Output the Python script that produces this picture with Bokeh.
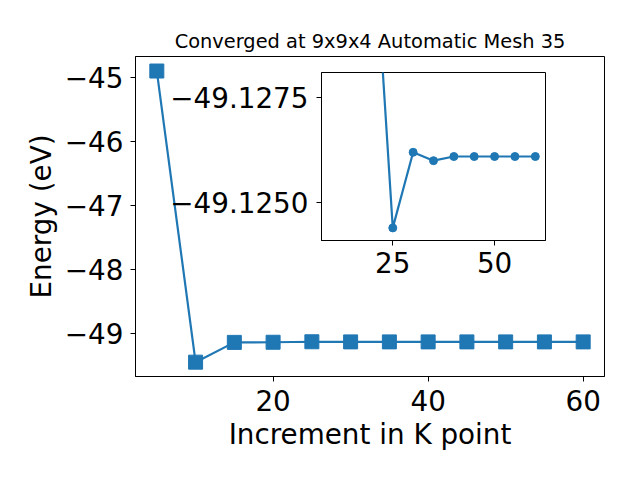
from bokeh.plotting import figure
from bokeh.layouts import column
from bokeh.models import Range1d, FixedTicker, CustomJSTickFormatter
from bokeh.embed import file_html
from bokeh.resources import INLINE

# ---- data ----
kpoints = [5, 10, 15, 20, 25, 30, 35, 40, 45, 50, 55, 60]
energy = [-44.894, -49.443, -49.134, -49.132, -49.1244, -49.1262,
          -49.1260, -49.1261, -49.1261, -49.1261, -49.1261, -49.1261]
inset_k = kpoints[1:]
inset_e = energy[1:]
title_text = "Converged at 9x9x4 Automatic Mesh 35"
x_label = "Increment in K point"
y_label = "Energy (eV)"
main_xticks = [20, 40, 60]
main_yticks = [-49, -48, -47, -46, -45]
inset_xticks = [25, 50]
inset_yticks = [-49.1275, -49.1250]

FONT = "DejaVu Sans"
BLUE = "#1f77b4"
LBL = "27.8px"

# shared left/right borders (column layout aligns plot frames)
BL, BR = 155, 16
SHIFT = BL - 135          # main frame left sits at x=135 on the page

MT, MB = 56, 104
FW, FH = 469, 320
# the column gives a negatively-shifted child SHIFT px less than asked
W, H = BL + FW + BR + SHIFT, MT + FH + MB
p = figure(width=W, height=H, output_backend="svg", toolbar_location=None,
           x_range=Range1d(2.25, 62.75), y_range=Range1d(-49.667, -44.667),
           min_border_left=BL, min_border_right=BR, min_border_top=MT,
           min_border_bottom=MB)
p.title.text = title_text
p.title.text_font = FONT
p.title.text_font_size = "19.4px"
p.title.text_font_style = "normal"
p.title.text_color = "black"
p.title.align = "center"
p.title.standoff = 8
p.xgrid.visible = False
p.ygrid.visible = False
p.outline_line_color = "black"
p.outline_line_width = 1
p.background_fill_color = "white"
p.border_fill_color = "white"

p.line(kpoints, energy, line_color=BLUE, line_width=2.2)
p.scatter(kpoints, energy, marker="square", size=14, fill_color=BLUE,
          line_color=BLUE)

fmt0 = CustomJSTickFormatter(code="return tick.toFixed(0).replace('-', '\\u2212');")
for ax in (p.xaxis[0], p.yaxis[0]):
    ax.major_label_text_font = FONT
    ax.major_label_text_font_size = LBL
    ax.major_label_text_color = "black"
    ax.axis_label_text_font = FONT
    ax.axis_label_text_font_size = LBL
    ax.axis_label_text_font_style = "normal"
    ax.axis_label_text_color = "black"
    ax.major_tick_in = 0
    ax.major_tick_out = 5
    ax.minor_tick_in = 0
    ax.minor_tick_out = 0
    ax.axis_line_color = "black"
    ax.major_tick_line_color = "black"
p.xaxis[0].ticker = FixedTicker(ticks=main_xticks)
p.yaxis[0].ticker = FixedTicker(ticks=main_yticks)
p.yaxis[0].formatter = fmt0
p.xaxis[0].axis_label = x_label
p.yaxis[0].axis_label = y_label
p.xaxis[0].major_label_standoff = 8
p.yaxis[0].major_label_standoff = 7
p.xaxis[0].axis_label_standoff = 4
p.yaxis[0].axis_label_standoff = 4
p.margin = (0, 0, 0, -SHIFT)

# ---- inset ----
IT, IB = 10, 45
IFW, IFH = 224, 168
IW = BL + IFW + BR
IH = IT + IFH + IB
q = figure(width=IW, height=IH, output_backend="svg", toolbar_location=None,
           x_range=Range1d(7.5, 62.5), y_range=Range1d(-49.1241, -49.1281),
           min_border_left=BL, min_border_right=BR, min_border_top=IT,
           min_border_bottom=IB)
q.xgrid.visible = False
q.ygrid.visible = False
q.outline_line_color = "black"
q.outline_line_width = 1
q.background_fill_color = "white"
q.border_fill_alpha = 0
q.line(inset_k, inset_e, line_color=BLUE, line_width=2.2)
q.scatter(inset_k, inset_e, marker="circle", size=8, fill_color=BLUE,
          line_color=BLUE)
fmt4 = CustomJSTickFormatter(code="return tick.toFixed(4).replace('-', '\\u2212');")
for ax in (q.xaxis[0], q.yaxis[0]):
    ax.major_label_text_font = FONT
    ax.major_label_text_font_size = LBL
    ax.major_label_text_color = "black"
    ax.major_tick_in = 0
    ax.major_tick_out = 5
    ax.minor_tick_in = 0
    ax.minor_tick_out = 0
    ax.axis_line_color = "black"
    ax.major_tick_line_color = "black"
q.xaxis[0].ticker = FixedTicker(ticks=inset_xticks)
q.yaxis[0].ticker = FixedTicker(ticks=inset_yticks)
q.yaxis[0].formatter = fmt4
q.xaxis[0].major_label_standoff = 6
q.yaxis[0].major_label_standoff = 8

# place inset over the main figure (inset frame at page x=321, y=72)
left_off = 321 - BL
top_off = (72 - IT) - H
q.margin = (top_off, 0, -top_off - IH, left_off)

layout = column(p, q, spacing=0)
open("out.html", "w").write(file_html(layout, INLINE))
